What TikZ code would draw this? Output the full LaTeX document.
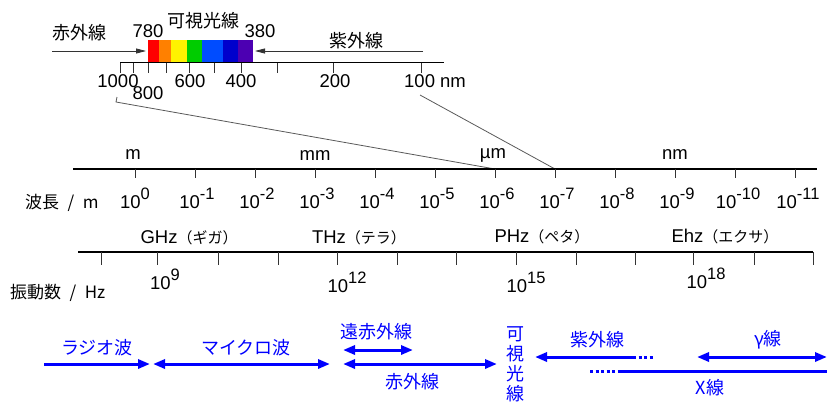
\documentclass[tikz,border=0pt]{standalone}
\usepackage{fontspec}
\setmainfont{Liberation Sans}
\newfontfamily\jpfont{Noto Sans CJK JP}
\usetikzlibrary{arrows.meta}
\newcommand\tenexp[1]{10\raisebox{.45em}{\fontsize{16.5}{16.5}\selectfont #1}}
\tikzset{
  num/.style={font=\fontsize{18.5}{18.5}\selectfont, inner sep=0pt},
  jp/.style={font=\jpfont\fontsize{18}{18}\selectfont, inner sep=0pt},
  jpblue/.style={jp, text=blue},
  scaleline/.style={line width=1.1pt},
  tickline/.style={draw=black!80, line width=.9pt},
  zoomline/.style={draw=black!65, line width=.8pt},
  toparrow/.style={draw=black!80, line width=.8pt, -{Triangle[length=10pt,width=5pt]}},
  band/.style={draw=blue, line width=3pt},
  bandtip/.style={arrows={-Triangle[length=12pt,width=9pt]}},
  bandtips/.style={arrows={Triangle[length=12pt,width=9pt]-Triangle[length=12pt,width=9pt]}},
  banddots/.style={draw=blue, line width=3pt, dash pattern=on 3pt off 2.5pt},
}
\begin{document}
\begin{tikzpicture}[x=1pt,y=-1pt]
\useasboundingbox (0,0) rectangle (827,405);
% visible spectrum
\fill[red] (148,40) rectangle (159,62);
\fill[orange] (159,40) rectangle (171,62);
\fill[yellow] (171,40) rectangle (187,62);
\fill[green!80!black] (187,40) rectangle (202,62);
\fill[blue!70!cyan] (202,40) rectangle (223,62);
\fill[blue!80!black] (223,40) rectangle (238,62);
\fill[violet!60!blue] (238,40) rectangle (253,62);
\draw (148,31) node[num] (n780) {780};
\draw (260,31) node[num] (n380) {380};
\draw (203,21) node[jp] (vis) {可視光線};
\draw (79,33) node[jp] (ir) {赤外線};
\draw (356,41) node[jp] (uv) {紫外線};
\draw[toparrow] (52,51) -- (146,51);
\draw[toparrow] (423,51) -- (255,51);
% nm scale
\draw[scaleline] (120,62.5) -- (444,62.5);
\draw[tickline] (120,62.5) -- (120,73);
\draw[tickline] (133,62.5) -- (133,73);
\draw[tickline] (148,62.5) -- (148,73);
\draw[tickline] (166,62.5) -- (166,73);
\draw[tickline] (189,62.5) -- (189,73);
\draw[tickline] (214,62.5) -- (214,73);
\draw[tickline] (241,62.5) -- (241,73);
\draw[tickline] (277,62.5) -- (277,73);
\draw[tickline] (333,62.5) -- (333,73);
\draw[tickline] (421,62.5) -- (421,73);
\draw (118,81) node[num] (n1000) {1000};
\draw (148,93) node[num] (n800) {800};
\draw (190,81) node[num] (n600) {600};
\draw (241,81) node[num] (n400) {400};
\draw (335,81) node[num] (n200) {200};
\draw (404,81) node[num,anchor=west] (n100) {100 nm};
\draw[zoomline] (117,97) -- (116,102) -- (495,169);
\draw[zoomline] (420,95) -- (555,169);
% wavelength
\draw[scaleline] (73,169) -- (817,169);
\draw[tickline] (135,169) -- (135,178);
\draw[tickline] (195,169) -- (195,178);
\draw[tickline] (255,169) -- (255,178);
\draw[tickline] (315,169) -- (315,178);
\draw[tickline] (375,169) -- (375,178);
\draw[tickline] (435,169) -- (435,178);
\draw[tickline] (495,169) -- (495,178);
\draw[tickline] (555,169) -- (555,178);
\draw[tickline] (615,169) -- (615,178);
\draw[tickline] (675,169) -- (675,178);
\draw[tickline] (735,169) -- (735,178);
\draw[tickline] (795,169) -- (795,178);
\draw (133,155) node[num] (um) {m};
\draw (315,156) node[num] (umm) {mm};
\draw (493,155) node[num] (uum) {µm};
\draw (675,155) node[num] (unm) {nm};
\draw (135,208) node[num,anchor=base] (w0) {\tenexp{0}};
\draw (197,208) node[num,anchor=base] (w1) {\tenexp{-1}};
\draw (257,208) node[num,anchor=base] (w2) {\tenexp{-2}};
\draw (317,208) node[num,anchor=base] (w3) {\tenexp{-3}};
\draw (377,208) node[num,anchor=base] (w4) {\tenexp{-4}};
\draw (437,208) node[num,anchor=base] (w5) {\tenexp{-5}};
\draw (497,208) node[num,anchor=base] (w6) {\tenexp{-6}};
\draw (557,208) node[num,anchor=base] (w7) {\tenexp{-7}};
\draw (617,208) node[num,anchor=base] (w8) {\tenexp{-8}};
\draw (677,208) node[num,anchor=base] (w9) {\tenexp{-9}};
\draw (738,208) node[num,anchor=base] (w10) {\tenexp{-10}};
\draw (798,208) node[num,anchor=base] (w11) {\tenexp{-11}};
\draw (25,203) node[jp,anchor=west,font=\jpfont\fontsize{17}{17}\selectfont] (wlen) {波長\enspace/\enspace m};
% frequency
\draw[scaleline] (78,252) -- (813,252);
\draw[tickline] (101,252) -- (101,265);
\draw[tickline] (157,252) -- (157,265);
\draw[tickline] (218,252) -- (218,265);
\draw[tickline] (278,252) -- (278,265);
\draw[tickline] (337,252) -- (337,265);
\draw[tickline] (397,252) -- (397,265);
\draw[tickline] (456,252) -- (456,265);
\draw[tickline] (516,252) -- (516,265);
\draw[tickline] (576,252) -- (576,265);
\draw[tickline] (635,252) -- (635,265);
\draw[tickline] (693,252) -- (693,265);
\draw[tickline] (754,252) -- (754,265);
\draw[tickline] (813,252) -- (813,265);
\draw (189,238) node[num] (ghz) {GHz{\jpfont\fontsize{15}{15}\selectfont （ギガ）}};
\draw (359,238) node[num] (thz) {THz{\jpfont\fontsize{15}{15}\selectfont （テラ）}};
\draw (542,237) node[num] (phz) {PHz{\jpfont\fontsize{15}{15}\selectfont （ペタ）}};
\draw (725,237) node[num] (ehz) {Ehz{\jpfont\fontsize{15}{15}\selectfont （エクサ）}};
\draw (165,289) node[num,anchor=base] (f9) {\tenexp{9}};
\draw (347,292) node[num,anchor=base] (f12) {\tenexp{12}};
\draw (526,292) node[num,anchor=base] (f15) {\tenexp{15}};
\draw (706,288) node[num,anchor=base] (f18) {\tenexp{18}};
\draw (10,293) node[jp,anchor=west,font=\jpfont\fontsize{17}{17}\selectfont] (freq) {振動数\enspace/\enspace Hz};
% bands
\draw[band,bandtip] (44,364) -- (150,364);
\draw (97,348) node[jpblue] (radio) {ラジオ波};
\draw[band,bandtips] (153,364) -- (330,364);
\draw (246,348) node[jpblue] (micro) {マイクロ波};
\draw[band,bandtips] (343,350) -- (413,350);
\draw (376,332) node[jpblue] (fir) {遠赤外線};
\draw[band,bandtips] (343,364) -- (497,364);
\draw (412,382) node[jpblue] (irb) {赤外線};
\draw (515,334) node[jpblue] (v1) {可};
\draw (515,354) node[jpblue] (v2) {視};
\draw (515,374) node[jpblue] (v3) {光};
\draw (515,394) node[jpblue] (v4) {線};
\draw[band,arrows={Triangle[length=12pt,width=9pt]-}] (535,357) -- (633,357);
\draw[banddots] (633,357) -- (654,357);
\draw (597,340) node[jpblue] (uvb) {紫外線};
\draw[band,bandtips] (697,357) -- (827,357);
\draw (768,340) node[jpblue] (gam) {γ線};
\draw[banddots] (590,371) -- (618,371);
\draw[band] (618,371) -- (827,371);
\draw (710,388) node[jpblue] (xray) {X線};
\end{tikzpicture}
\end{document}
